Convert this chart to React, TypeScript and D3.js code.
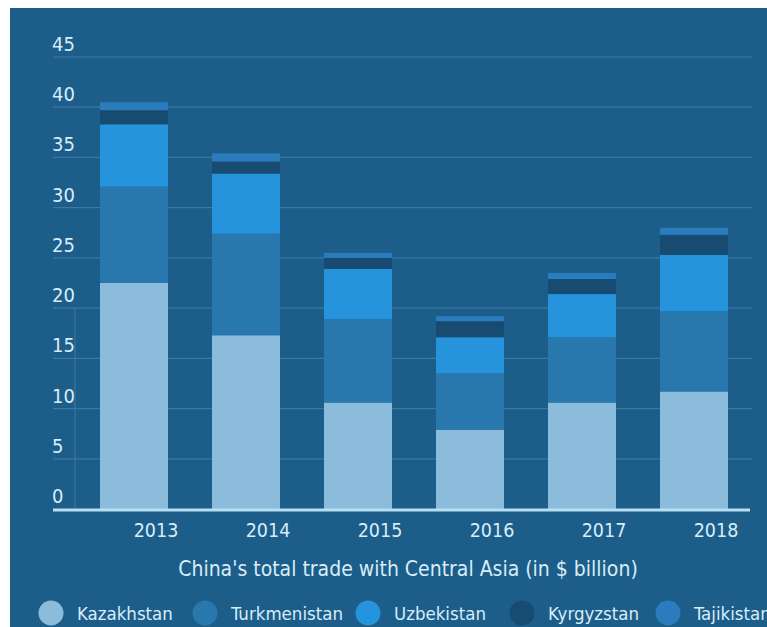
import React from 'react';
import { scaleBand, scaleLinear, stack } from 'd3';

const years = ['2013', '2014', '2015', '2016', '2017', '2018'];
const countries = ['Kazakhstan', 'Turkmenistan', 'Uzbekistan', 'Kyrgyzstan', 'Tajikistan'];
const kazakhstan = [22.5, 17.3, 10.6, 7.9, 10.6, 11.7];
const turkmenistan = [9.6, 10.1, 8.3, 5.6, 6.5, 8.0];
const uzbekistan = [6.2, 6.0, 5.0, 3.6, 4.3, 5.6];
const kyrgyzstan = [1.4, 1.2, 1.1, 1.6, 1.5, 2.0];
const tajikistan = [0.8, 0.8, 0.5, 0.5, 0.6, 0.7];
const yTicks = [0, 5, 10, 15, 20, 25, 30, 35, 40, 45];

const colors = ['#8cbcdc', '#2877ad', '#2594dd', '#184b71', '#2a7cbd'];
const FONT = '"DejaVu Sans Condensed", "Liberation Sans Narrow", "Open Sans", sans-serif';
const TEXT = '#d8edf8';

const App: React.FC = () => {
    const width = 767;
    const height = 627;

    const rows = years.map((y, i) => ({
        year: y,
        Kazakhstan: kazakhstan[i],
        Turkmenistan: turkmenistan[i],
        Uzbekistan: uzbekistan[i],
        Kyrgyzstan: kyrgyzstan[i],
        Tajikistan: tajikistan[i],
    }));
    const series = stack<any>().keys(countries)(rows);

    const x = scaleBand<string>()
        .domain(years)
        .range([78, 750])
        .paddingInner(0.393)
        .paddingOuter(0.1965);
    const y = scaleLinear().domain([0, 45]).range([509, 57]);

    const legendX = [51, 205, 368, 522, 668];

    return (
        <svg width={width} height={height} style={{ display: 'block', position: 'absolute', left: 0, top: 0 }}>
            <rect width={width} height={height} fill="#ffffff" />
            <rect x={10} y={8} width={width - 10} height={height - 8} fill="#1c5e89" />

            {/* gridlines + y labels */}
            {yTicks.map(t => (
                <g key={t}>
                    {t > 0 && (
                        <line x1={53} x2={752} y1={y(t)} y2={y(t)} stroke="#3a79a3" strokeWidth={1.2} />
                    )}
                    <text x={52} y={y(t) - 6} fill={TEXT} fontSize={20} fontFamily={FONT}>{t}</text>
                </g>
            ))}
            <line x1={75} x2={75} y1={y(19.9)} y2={y(0)} stroke="#3a79a3" strokeWidth={1} />

            {/* stacked bars */}
            {series.map((s, si) => (
                <g key={s.key} fill={colors[si]}>
                    {s.map((d, i) => (
                        <rect
                            key={years[i]}
                            x={x(years[i])}
                            y={y(d[1])}
                            width={x.bandwidth()}
                            height={y(d[0]) - y(d[1])}
                        />
                    ))}
                </g>
            ))}

            {/* baseline */}
            <line x1={53} x2={750} y1={510} y2={510} stroke="#b5def3" strokeWidth={3} />

            {/* x labels */}
            {years.map(yr => (
                <text
                    key={yr}
                    x={(x(yr) as number) + x.bandwidth() / 2 + 22}
                    y={537}
                    textAnchor="middle"
                    fill={TEXT}
                    fontSize={19.5}
                    fontFamily={FONT}
                >
                    {yr}
                </text>
            ))}

            <text x={408} y={576} textAnchor="middle" fill={TEXT} fontSize={21} fontFamily={FONT}>
                China's total trade with Central Asia (in $ billion)
            </text>

            {/* legend */}
            {countries.map((c, i) => (
                <g key={c}>
                    <circle cx={legendX[i]} cy={613} r={12.5} fill={colors[i]} />
                    <text x={legendX[i] + 26} y={620} fill={TEXT} fontSize={18.5} fontFamily={FONT}>{c}</text>
                </g>
            ))}
        </svg>
    );
};

export default App;
